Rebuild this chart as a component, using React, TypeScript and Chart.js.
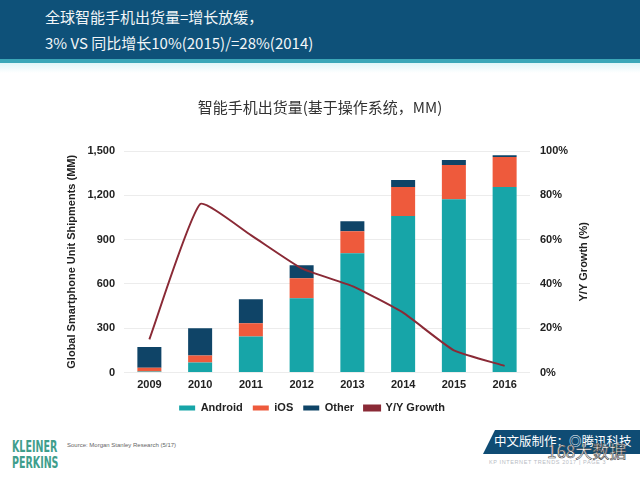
import React, { useEffect, useRef } from "react";
import { Chart, registerables } from "chart.js";

Chart.register(...registerables);

// ---- data ----
const years = ["2009", "2010", "2011", "2012", "2013", "2014", "2015", "2016"];
const android = [6, 68, 244, 502, 808, 1059, 1174, 1256];
const ios = [26, 47, 89, 136, 149, 197, 231, 204];
const other = [140, 185, 163, 88, 68, 47, 34, 12];
const growth = [15, 76, 62, 47, 39, 27, 10, 3];
const leftTicks = [0, 300, 600, 900, 1200, 1500];
const rightTicks = [0, 20, 40, 60, 80, 100];

const chartTitle = "智能手机出货量(基于操作系统，MM)";
const leftTitle = "Global Smartphone Unit Shipments (MM)";
const rightTitle = "Y/Y Growth (%)";
const headerLine1 = "全球智能手机出货量=增长放缓，";
const headerLine2 = "3% VS 同比增长10%(2015)/=28%(2014)";

const SANS = '"Liberation Sans", Arial, sans-serif';
const CJK = '"Noto Sans CJK SC", sans-serif';

const rightTitlePlugin = {
  id: "rightTitle",
  afterDraw(chart: any) {
    const s = chart.scales.y1;
    const ctx = chart.ctx;
    const area = chart.chartArea;
    ctx.save();
    ctx.translate(s.left + 54, (area.top + area.bottom) / 2);
    ctx.rotate(-Math.PI / 2);
    ctx.font = `bold 11px ${SANS}`;
    ctx.fillStyle = "#222";
    ctx.textAlign = "center";
    ctx.textBaseline = "middle";
    ctx.fillText(rightTitle, 0, 0);
    ctx.restore();
  },
};

const legendShiftPlugin = {
  id: "legendShift",
  afterLayout(chart: any) {
    if (chart.legend) {
      chart.legend.left -= 8;
      chart.legend.right -= 8;
    }
  },
};

function ShipmentsChart() {
  const ref = useRef<HTMLCanvasElement>(null);
  useEffect(() => {
    if (!ref.current) return;
    const chart = new Chart(ref.current, {
      type: "bar",
      data: {
        labels: years,
        datasets: [
          {
            type: "bar",
            label: "Android",
            data: android,
            backgroundColor: "#17a5a8",
            yAxisID: "y",
            order: 1,
            barPercentage: 0.473,
            categoryPercentage: 1,
          },
          {
            type: "bar",
            label: "iOS",
            data: ios,
            backgroundColor: "#ee5a3c",
            yAxisID: "y",
            order: 1,
            barPercentage: 0.473,
            categoryPercentage: 1,
          },
          {
            type: "bar",
            label: "Other",
            data: other,
            backgroundColor: "#0f4467",
            yAxisID: "y",
            order: 1,
            barPercentage: 0.473,
            categoryPercentage: 1,
          },
          {
            type: "line",
            label: "Y/Y Growth",
            data: growth,
            borderColor: "#8a2a36",
            backgroundColor: "#8a2a36",
            borderWidth: 2,
            pointRadius: 0,
            tension: 0.15,
            yAxisID: "y1",
            order: 0,
          },
        ],
      } as any,
      options: {
        animation: false,
        responsive: true,
        maintainAspectRatio: false,
        layout: { padding: { top: 0, bottom: 4.5, left: 0, right: 0 } },
        plugins: {
          title: {
            display: true,
            text: chartTitle,
            color: "#333",
            font: { family: CJK, size: 15, weight: "normal" },
            padding: { top: 10, bottom: 35 },
          },
          legend: {
            position: "bottom",
            labels: {
              boxWidth: 16,
              boxHeight: 5,
              padding: 10,
              color: "#222",
              font: { family: SANS, size: 11, weight: "bold" },
              sort: (a: any, b: any) => a.datasetIndex - b.datasetIndex,
            },
          },
          tooltip: { enabled: false },
        },
        scales: {
          x: {
            stacked: true,
            grid: { display: false, drawTicks: false },
            border: { display: false },
            ticks: {
              color: "#222",
              padding: 6,
              font: { family: SANS, size: 11, weight: "bold" },
            },
            afterFit: (s: any) => {
              s.height = 20;
            },
          },
          y: {
            stacked: true,
            position: "left",
            min: 0,
            max: 1500,
            afterBuildTicks: (s: any) => {
              s.ticks = leftTicks.map((v) => ({ value: v }));
            },
            grid: { color: "#ececec", drawTicks: false },
            border: { display: false },
            ticks: {
              color: "#222",
              padding: 9,
              font: { family: SANS, size: 11, weight: "bold" },
              callback: (v: any) => Number(v).toLocaleString("en-US"),
            },
            title: {
              display: true,
              text: leftTitle,
              color: "#222",
              font: { family: SANS, size: 11, weight: "bold" },
              padding: { top: 65, bottom: 0 },
            },
            afterFit: (s: any) => {
              s.width = 124;
            },
          },
          y1: {
            position: "right",
            min: 0,
            max: 100,
            afterBuildTicks: (s: any) => {
              s.ticks = rightTicks.map((v) => ({ value: v }));
            },
            grid: { drawOnChartArea: false, drawTicks: false },
            border: { display: false },
            ticks: {
              color: "#222",
              padding: 10,
              font: { family: SANS, size: 11, weight: "bold" },
              callback: (v: any) => `${v}%`,
            },
            afterFit: (s: any) => {
              s.width = 110;
            },
          },
        },
      } as any,
      plugins: [rightTitlePlugin, legendShiftPlugin],
    });
    return () => chart.destroy();
  }, []);
  return <canvas ref={ref} />;
}

export default function App() {
  return (
    <div
      style={{
        position: "fixed",
        left: 0,
        top: 0,
        width: 640,
        height: 480,
        background: "#fff",
        overflow: "hidden",
      }}
    >
      {/* header */}
      <div style={{ position: "absolute", left: 0, top: 0, width: 640, height: 59, background: "#0e5179" }} />
      <div style={{ position: "absolute", left: 0, top: 59, width: 640, height: 4, background: "#3ba7b8" }} />
      <div
        style={{
          position: "absolute",
          left: 0,
          top: 63,
          width: 640,
          height: 10,
          background: "linear-gradient(#dff6f8, #ffffff)",
        }}
      />
      <div
        style={{
          position: "absolute",
          left: 45,
          top: 4,
          color: "#f2f6f8",
          fontFamily: CJK,
          fontSize: 15,
          lineHeight: "26px",
          whiteSpace: "nowrap",
        }}
      >
        <div>{headerLine1}</div>
        <div>{headerLine2}</div>
      </div>

      {/* chart */}
      <div style={{ position: "absolute", left: 0, top: 88, width: 640, height: 340 }}>
        <ShipmentsChart />
      </div>

      {/* footer left */}
      <div
        style={{
          position: "absolute",
          left: 12,
          top: 439,
          color: "#3f9e8c",
          fontFamily: '"Liberation Sans Narrow", "DejaVu Sans Condensed", sans-serif',
          fontWeight: "bold",
          fontSize: 16,
          lineHeight: "15.5px",
          transform: "scaleX(0.66)",
          transformOrigin: "left top",
          whiteSpace: "nowrap",
        }}
      >
        <div>KLEINER</div>
        <div>PERKINS</div>
      </div>
      <div
        style={{
          position: "absolute",
          left: 67,
          top: 442,
          color: "#666",
          fontFamily: SANS,
          fontSize: 6,
          whiteSpace: "nowrap",
        }}
      >
        Source: Morgan Stanley Research (5/17)
      </div>

      {/* footer right banner */}
      <div
        style={{
          position: "absolute",
          left: 483,
          top: 430,
          width: 157,
          height: 24,
          background: "#0f4c74",
          clipPath: "polygon(12px 0, 100% 0, 100% 100%, 0 100%)",
        }}
      />
      <div
        style={{
          position: "absolute",
          left: 494,
          top: 432,
          color: "#fff",
          fontFamily: CJK,
          fontSize: 12.5,
          lineHeight: "18px",
          whiteSpace: "nowrap",
        }}
      >
        中文版制作：◎腾讯科技
      </div>
      <div
        style={{
          position: "absolute",
          left: 547,
          top: 440,
          color: "#fff",
          fontFamily: CJK,
          fontSize: 17,
          lineHeight: "22px",
          WebkitTextStroke: "0.6px #444",
          whiteSpace: "nowrap",
        }}
      >
        168大数据
      </div>
      <div
        style={{
          position: "absolute",
          left: 489,
          top: 459,
          color: "#b8bcc4",
          fontFamily: SANS,
          fontSize: 5.5,
          letterSpacing: 0.6,
          whiteSpace: "nowrap",
        }}
      >
        KP INTERNET TRENDS 2017 | PAGE 3
      </div>
    </div>
  );
}
